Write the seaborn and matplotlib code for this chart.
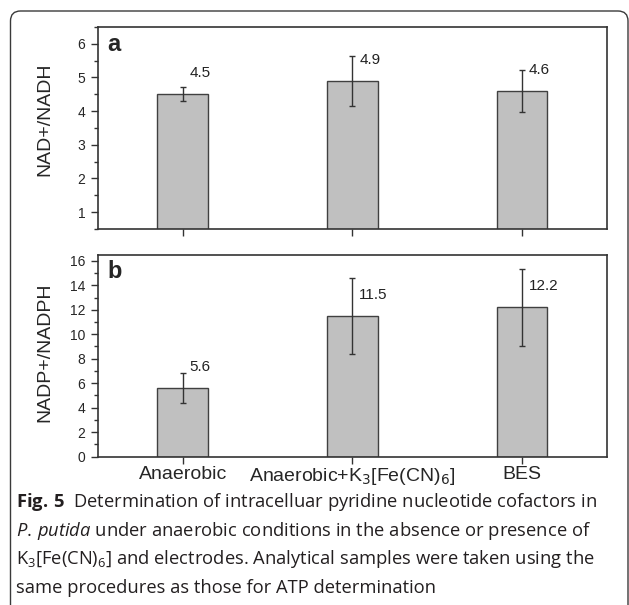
import pandas as pd
import matplotlib.pyplot as plt
import seaborn as sns
from matplotlib.ticker import MultipleLocator
from matplotlib.patches import FancyBboxPatch

# Data
conditions = ['Anaerobic', 'Anaerobic+K$_3$[Fe(CN)$_6$]', 'BES']
nad_ratio = [4.5, 4.9, 4.6]
nad_err = [0.21, 0.75, 0.62]
nadp_ratio = [5.6, 11.5, 12.2]
nadp_err = [1.2, 3.1, 3.15]

caption_lines = [
    r'$\mathbf{Fig.\,5}$  Determination of intracelluar pyridine nucleotide cofactors in',
    r'$\mathit{P.\,putida}$ under anaerobic conditions in the absence or presence of',
    r'K$_3$[Fe(CN)$_6$] and electrodes. Analytical samples were taken using the',
    'same procedures as those for ATP determination',
]

sns.set_style('ticks')
plt.rcParams['font.family'] = ['Liberation Sans', 'DejaVu Sans']
plt.rcParams['mathtext.fontset'] = 'custom'
plt.rcParams['mathtext.rm'] = 'Open Sans'
plt.rcParams['mathtext.it'] = 'Open Sans:italic'
plt.rcParams['mathtext.bf'] = 'Open Sans:bold'

edge = '#333333'
fig = plt.figure(figsize=(6.29, 6.05), dpi=100)

# rounded frame around the whole figure
frame = FancyBboxPatch((0.105, -0.5), 6.175, 6.44,
                       boxstyle='round,pad=0,rounding_size=0.1',
                       transform=fig.dpi_scale_trans, fill=False,
                       edgecolor='#3a3a3a', linewidth=1.0, clip_on=False)
fig.patches.append(frame)

ax_top = fig.add_axes([0.1558, 0.6215, 0.809, 0.334])
ax_bot = fig.add_axes([0.1558, 0.2451, 0.809, 0.334])

panels = [
    (ax_top, nad_ratio, nad_err, 'NAD+/NADH', 'a', (0.5, 6.5), 1, 0.5, 0.542),
    (ax_bot, nadp_ratio, nadp_err, 'NADP+/NADPH', 'b', (0, 16.5), 2, 1, 0.515),
]

for ax, vals, errs, ylabel, letter, ylim, major, minor, ly in panels:
    df = pd.DataFrame({'condition': conditions, 'ratio': vals})
    sns.barplot(data=df, x='condition', y='ratio', ax=ax, color='#c0c0c0',
                saturation=1, width=0.3, edgecolor='#404040', linewidth=1,
                errorbar=None)
    ax.errorbar(range(len(vals)), vals, yerr=errs, fmt='none', ecolor=edge,
                elinewidth=1, capsize=2.5, capthick=1, zorder=5)
    span = ylim[1] - ylim[0]
    for i, v in enumerate(vals):
        ax.text(i + 0.04, v + 0.105 * span, f'{v}', ha='left', va='center',
                fontsize=11, color='#222222')
    ax.set_ylim(*ylim)
    ax.set_xlim(-0.5, 2.5)
    ax.yaxis.set_major_locator(MultipleLocator(major))
    ax.yaxis.set_minor_locator(MultipleLocator(minor))
    ax.tick_params(axis='y', which='major', direction='out', length=5,
                   width=1, labelsize=10, pad=4, color=edge)
    ax.tick_params(axis='y', which='minor', direction='out', length=3,
                   width=1, color=edge)
    ax.tick_params(axis='x', direction='out', length=5, width=1,
                   labelsize=14, pad=2, color=edge)
    ax.set_ylabel(ylabel, fontsize=14)
    ax.yaxis.set_label_coords(-0.088, ly)
    ax.set_xlabel('')
    for s in ax.spines.values():
        s.set_visible(True)
        s.set_color(edge)
        s.set_linewidth(1.2)
    ax.text(0.018, 0.915, letter, transform=ax.transAxes, fontsize=17,
            fontweight='bold', ha='left', va='center')

ax_top.set_xticklabels([])
for lbl in ax_bot.get_xticklabels():
    lbl.set_math_fontfamily('dejavusans')

# caption
for k, line in enumerate(caption_lines):
    fig.text(16 / 629, 1 - (502 + 28.7 * k) / 605, line, fontsize=13.2,
             family='Open Sans', color='#231f20', ha='left', va='center')

fig.savefig('out.png', dpi=100)
